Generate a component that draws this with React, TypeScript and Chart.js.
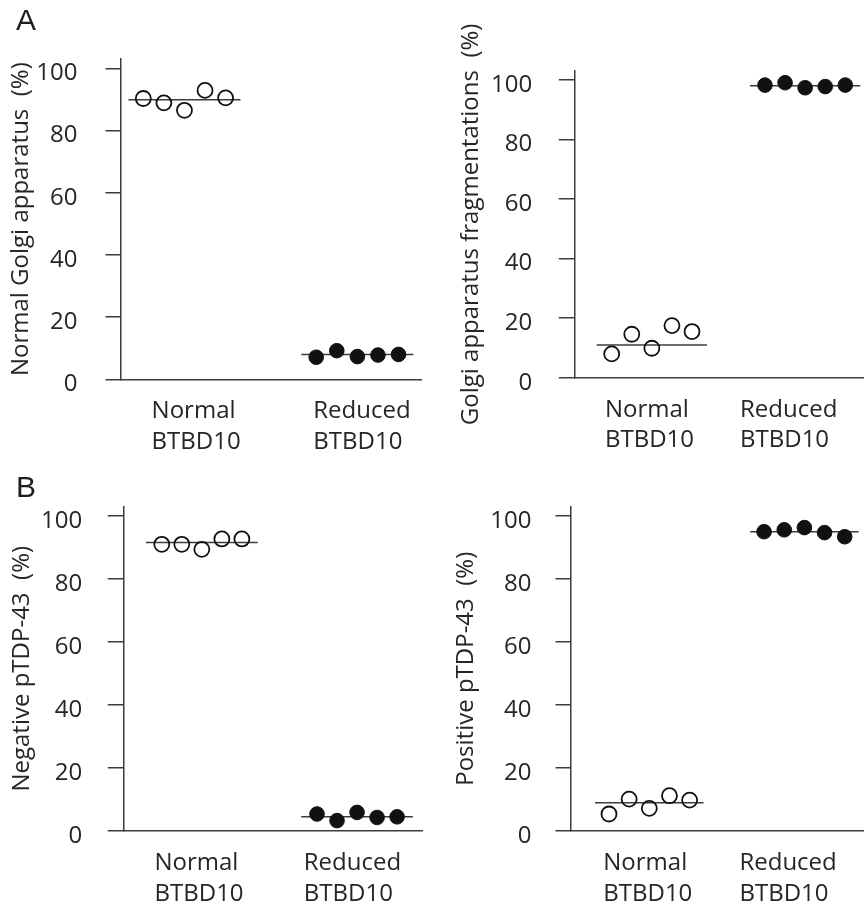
import React, { useEffect, useRef } from "react";
import { Chart, registerables } from "chart.js";

Chart.register(...registerables);

// ---- data ----
const categories: string[][] = [
  ["Normal", "BTBD10"],
  ["Reduced", "BTBD10"],
];
const yTicks = [0, 20, 40, 60, 80, 100];

// Panel A (left): Normal Golgi apparatus (%)
const golgiNormalOpen = [90.3, 88.9, 86.5, 92.9, 90.5];
const golgiNormalFilled = [7.1, 9.2, 7.3, 7.8, 8.0];
const golgiNormalMeans = [89.9, 8.0];

// Panel A (right): Golgi apparatus fragmentations (%)
const golgiFragOpen = [8.0, 14.6, 9.9, 17.5, 15.5];
const golgiFragFilled = [98.3, 99.1, 97.4, 97.8, 98.3];
const golgiFragMeans = [11.0, 98.1];

// Panel B (left): Negative pTDP-43 (%)
const negativeOpen = [91.0, 91.0, 89.4, 92.7, 92.7];
const negativeFilled = [5.4, 3.3, 5.9, 4.3, 4.5];
const negativeMeans = [91.6, 4.5];

// Panel B (right): Positive pTDP-43 (%)
const positiveOpen = [5.4, 10.1, 7.2, 11.2, 9.8];
const positiveFilled = [95.0, 95.6, 96.3, 94.7, 93.4];
const positiveMeans = [9.0, 95.0];

// ---- styles / layout ----
const FONT = "'Open Sans', sans-serif";
const TEXT = "#262626";
const LINE = "#3c3c3c";
const DOT = "#111111";

type PanelCfg = {
  title: string;
  open: number[];
  filled: number[];
  means: number[];
  left: number;
  top: number;
  width: number;
  height: number;
  padTop: number;
  padRight: number;
  yWidth: number;
  xHeight: number;
  xMin: number;
  xMax: number;
  spread: number;
  half: number;
  labelAt: number[];
  titlePad: number;
  tickPad: number;
};

const panels: PanelCfg[] = [
  {
    title: "Normal Golgi apparatus  (%)",
    open: golgiNormalOpen,
    filled: golgiNormalFilled,
    means: golgiNormalMeans,
    left: 0, top: 0, width: 432, height: 470,
    padTop: 59, padRight: 11, yWidth: 121, xHeight: 90.7,
    xMin: -0.367, xMax: 1.368, spread: 0.119, half: 0.324,
    labelAt: [-0.19, 0.745], titlePad: 6.9, tickPad: 28,
  },
  {
    title: "Golgi apparatus fragmentations  (%)",
    open: golgiFragOpen,
    filled: golgiFragFilled,
    means: golgiFragMeans,
    left: 432, top: 0, width: 460, height: 470,
    padTop: 71.1, padRight: 5.5, yWidth: 142.3, xHeight: 92.3,
    xMin: -0.506, xMax: 1.506, spread: 0.131, half: 0.36,
    labelAt: [-0.306, 0.575], titlePad: 24.7, tickPad: 26.7,
  },
  {
    title: "Negative pTDP-43  (%)",
    open: negativeOpen,
    filled: negativeFilled,
    means: negativeMeans,
    left: 0, top: 460, width: 432, height: 449,
    padTop: 46.5, padRight: 4.7, yWidth: 123.3, xHeight: 78,
    xMin: -0.506, xMax: 1.423, spread: 0.129, half: 0.36,
    labelAt: [-0.305, 0.657], titlePad: 7.4, tickPad: 25.6,
  },
  {
    title: "Positive pTDP-43  (%)",
    open: positiveOpen,
    filled: positiveFilled,
    means: positiveMeans,
    left: 432, top: 460, width: 460, height: 449,
    padTop: 46.5, padRight: 4.5, yWidth: 139, xHeight: 78,
    xMin: -0.505, xMax: 1.505, spread: 0.13, half: 0.35,
    labelAt: [-0.297, 0.581], titlePad: 19.9, tickPad: 24,
  },
];

function Panel({ cfg }: { cfg: PanelCfg }) {
  const ref = useRef<HTMLCanvasElement>(null);

  useEffect(() => {
    const c = cfg;
    const dots = (vals: number[], group: number) =>
      vals.map((v, i) => ({ x: group + (i - 2) * c.spread, y: v }));
    const meanLine = (group: number) => [
      { x: group - c.half, y: c.means[group] },
      { x: group + c.half, y: c.means[group] },
    ];

    const chart = new Chart(ref.current as HTMLCanvasElement, {
      type: "scatter",
      data: {
        datasets: [
          {
            data: dots(c.open, 0),
            pointStyle: "circle",
            pointRadius: 7.5,
            pointBorderWidth: 1.8,
            pointBorderColor: DOT,
            pointBackgroundColor: "rgba(0,0,0,0)",
            clip: false,
          } as any,
          {
            data: dots(c.filled, 1),
            pointStyle: "circle",
            pointRadius: 7.3,
            pointBorderWidth: 1,
            pointBorderColor: DOT,
            pointBackgroundColor: DOT,
            clip: false,
          } as any,
          {
            data: meanLine(0),
            showLine: true,
            borderColor: LINE,
            borderWidth: 1.5,
            pointRadius: 0,
            clip: false,
          } as any,
          {
            data: meanLine(1),
            showLine: true,
            borderColor: LINE,
            borderWidth: 1.5,
            pointRadius: 0,
            clip: false,
          } as any,
        ],
      },
      options: {
        animation: false,
        responsive: false,
        events: [],
        layout: { padding: { top: c.padTop, right: c.padRight, left: 0, bottom: 0 } },
        plugins: { legend: { display: false }, tooltip: { enabled: false } },
        scales: {
          x: {
            type: "linear",
            min: c.xMin,
            max: c.xMax,
            afterBuildTicks: (s: any) => {
              s.ticks = c.labelAt.map((v) => ({ value: v }));
            },
            afterFit: (s: any) => {
              s.height = c.xHeight;
            },
            grid: { display: false, drawTicks: false },
            border: { display: true, color: LINE, width: 1.5 },
            ticks: {
              autoSkip: false,
              maxRotation: 0,
              minRotation: 0,
              align: "start",
              padding: 16.5,
              color: TEXT,
              font: { family: FONT, size: 24, lineHeight: 1.29 },
              callback: (_v: any, i: number) => categories[i],
            },
          } as any,
          y: {
            type: "linear",
            min: 0,
            max: 103,
            afterBuildTicks: (s: any) => {
              s.ticks = yTicks.map((v) => ({ value: v }));
            },
            afterFit: (s: any) => {
              s.width = c.yWidth;
            },
            grid: {
              display: true,
              drawOnChartArea: false,
              drawTicks: true,
              tickLength: 15.5,
              color: LINE,
              lineWidth: 1.5,
            },
            border: { display: true, color: LINE, width: 1.5 },
            ticks: {
              padding: c.tickPad,
              labelOffset: 5,
              color: TEXT,
              font: { family: FONT, size: 24 },
              callback: (v: any) => String(v),
            },
            title: {
              display: true,
              text: c.title,
              color: TEXT,
              font: { family: FONT, size: 24, lineHeight: 1.2 },
              padding: { top: c.titlePad, bottom: 0 },
            },
          } as any,
        },
      },
    });
    return () => chart.destroy();
  }, [cfg]);

  return (
    <canvas
      ref={ref}
      width={cfg.width}
      height={cfg.height}
      style={{ position: "absolute", left: cfg.left, top: cfg.top, width: cfg.width, height: cfg.height }}
    />
  );
}

const letterStyle: React.CSSProperties = {
  position: "absolute",
  fontFamily: "'Liberation Sans', Arial, sans-serif",
  fontSize: 30,
  lineHeight: "30px",
  color: "#1e1e1e",
  margin: 0,
};

export default function App() {
  return (
    <div
      style={{
        position: "absolute",
        left: 0,
        top: 0,
        width: 864,
        height: 909,
        overflow: "hidden",
        background: "#ffffff",
      }}
    >
      {panels.map((p, i) => (
        <Panel key={i} cfg={p} />
      ))}
      <div style={{ ...letterStyle, left: 16, top: 5.3 }}>A</div>
      <div style={{ ...letterStyle, left: 16, top: 472.3 }}>B</div>
    </div>
  );
}
